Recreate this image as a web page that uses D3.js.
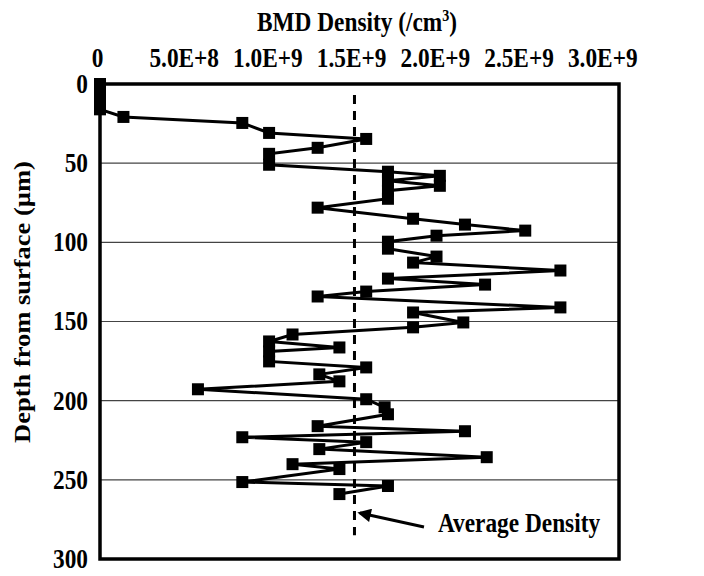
<!DOCTYPE html>
<html><head><meta charset="utf-8">
<script src="https://cdn.jsdelivr.net/npm/d3@7"></script>
<style>body{margin:0;background:#fff}</style>
</head><body><svg id="c" width="704" height="576"></svg>
<script>
const depths = [0,4,8,12,16,20.8,24.6,30.9,34.7,40.3,44.1,51.0,55.4,58.0,61.1,64.3,67.4,72.5,78.1,85.1,88.8,92.6,95.8,99.6,104.0,109.0,112.8,117.8,122.9,126.7,131.1,134.2,141.1,144.3,150.6,153.7,158.2,162.6,166.4,168.9,175.2,179.0,183.4,187.8,192.8,199.1,204.2,208.6,216.1,219.3,223.1,226.2,230.6,235.7,240.1,243.2,251.4,253.9,259.0];
const density = [0,0,0,0,0,0.14e9,0.85e9,1.01e9,1.59e9,1.30e9,1.01e9,1.01e9,1.72e9,2.03e9,1.72e9,2.03e9,1.72e9,1.72e9,1.30e9,1.87e9,2.18e9,2.54e9,2.01e9,1.72e9,1.72e9,2.01e9,1.87e9,2.75e9,1.72e9,2.30e9,1.59e9,1.30e9,2.75e9,1.87e9,2.17e9,1.87e9,1.15e9,1.01e9,1.43e9,1.01e9,1.01e9,1.59e9,1.31e9,1.43e9,0.585e9,1.59e9,1.70e9,1.72e9,1.30e9,2.18e9,0.85e9,1.59e9,1.31e9,2.31e9,1.15e9,1.43e9,0.85e9,1.72e9,1.43e9];
const xTicks = [0,5e8,1e9,1.5e9,2e9,2.5e9,3e9];
const xTickLabels = ["0","5.0E+8","1.0E+9","1.5E+9","2.0E+9","2.5E+9","3.0E+9"];
const yTicks = [0,50,100,150,200,250,300];
const gridDepths = [50,100,150,200,250];
const avgDensity = 1.52e9;
const avgSpan = [7,285];

const svg = d3.select("#c");
const L=100,T=84,R=619,B=559;
const x = d3.scaleLinear().domain([0,3.1e9]).range([L,R]);
const y = d3.scaleLinear().domain([0,300]).range([T,B]);
const font = "'Liberation Serif','Times New Roman',serif";
const FS = 26.5, SX = 0.88;

// gridlines
svg.append("g").selectAll("line").data(gridDepths).join("line")
  .attr("x1",L).attr("x2",R).attr("y1",d=>y(d)).attr("y2",d=>y(d))
  .attr("stroke","#444").attr("stroke-width",1.2);

// average dashed line
svg.append("line").attr("x1",x(avgDensity)).attr("x2",x(avgDensity))
  .attr("y1",y(avgSpan[0])).attr("y2",y(avgSpan[1]))
  .attr("stroke","#000").attr("stroke-width",3).attr("stroke-dasharray","9,7");

// frame
svg.append("rect").attr("x",L).attr("y",T).attr("width",R-L).attr("height",B-T)
  .attr("fill","none").attr("stroke","#000").attr("stroke-width",3.5);

// top axis
const xAxis = d3.axisTop(x).tickValues(xTicks).tickSize(0)
  .tickFormat((d,i)=>xTickLabels[i]);
const gx = svg.append("g").attr("transform",`translate(0,${T-17})`).call(xAxis);
gx.select(".domain").remove();
gx.selectAll("text").attr("y",0).attr("x",0).attr("dy",0)
  .attr("font-family",font).attr("font-weight","bold")
  .attr("font-size",FS+"px").attr("fill","#000")
  .attr("transform",d=>d===0?`translate(-3,0) scale(${SX},1)`:`scale(${SX},1)`);

// left axis
const yAxis = d3.axisLeft(y).tickValues(yTicks).tickSize(0);
const gy = svg.append("g").attr("transform",`translate(${L-12},0)`).call(yAxis);
gy.select(".domain").remove();
gy.selectAll("text").attr("x",0).attr("font-family",font).attr("font-weight","bold")
  .attr("font-size",FS+"px").attr("fill","#000").attr("transform",`scale(${SX},1)`);

// titles
const tt = svg.append("text").attr("transform",`translate(357,31) scale(${SX},1)`)
  .attr("text-anchor","middle")
  .attr("font-family",font).attr("font-weight","bold").attr("font-size",FS+"px");
tt.append("tspan").text("BMD Density (/cm");
tt.append("tspan").attr("dy",-10).attr("font-size","16px").text("3");
tt.append("tspan").attr("dy",10).text(")");

svg.append("text").attr("transform",`translate(30,302) rotate(-90) scale(1,${SX})`)
  .attr("text-anchor","middle").attr("font-family",font).attr("font-weight","bold")
  .attr("font-size",FS+"px").text("Depth from surface (µm)");

// data line
const pts = depths.map((d,i)=>({d, v:density[i]}));
svg.append("path").datum(pts)
  .attr("d", d3.line().x(p=>x(p.v)).y(p=>y(p.d)))
  .attr("fill","none").attr("stroke","#000").attr("stroke-width",3);
const ms = 12;
svg.append("g").selectAll("rect").data(pts).join("rect")
  .attr("x",p=>x(p.v)-ms/2).attr("y",p=>y(p.d)-ms/2)
  .attr("width",ms).attr("height",ms).attr("fill","#000");

// annotation
svg.append("defs").append("marker").attr("id","ah").attr("viewBox","0 0 10 10")
  .attr("refX",8).attr("refY",5).attr("markerWidth",5).attr("markerHeight",4.5)
  .attr("orient","auto").append("path").attr("d","M0,0L10,5L0,10z").attr("fill","#000");
svg.append("line").attr("x1",424).attr("y1",527).attr("x2",360).attr("y2",513)
  .attr("stroke","#000").attr("stroke-width",3).attr("marker-end","url(#ah)");
svg.append("text").attr("transform",`translate(438,532) scale(${SX},1)`).attr("font-family",font)
  .attr("font-weight","bold").attr("font-size",FS+"px").text("Average Density");
</script></body></html>
